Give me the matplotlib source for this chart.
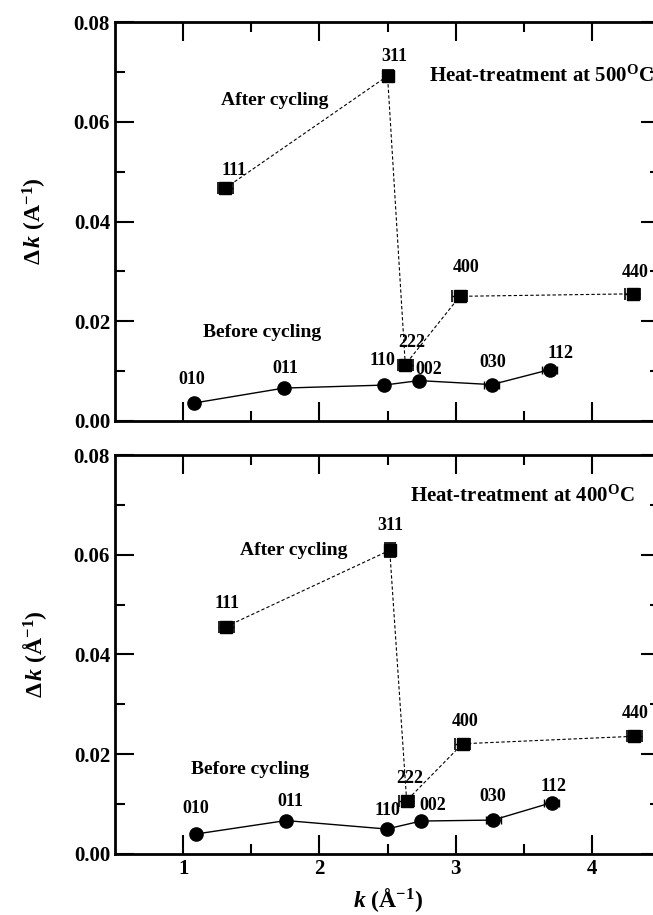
import numpy as np
import matplotlib
matplotlib.use("Agg")
import matplotlib.pyplot as plt

plt.rcParams['font.family'] = ['Liberation Serif', 'DejaVu Serif']
plt.rcParams['font.weight'] = 'bold'
plt.rcParams['axes.labelweight'] = 'bold'
plt.rcParams['mathtext.fontset'] = 'custom'
plt.rcParams['mathtext.rm'] = 'Liberation Serif:bold'
plt.rcParams['mathtext.it'] = 'Liberation Serif:bold:italic'
plt.rcParams['mathtext.bf'] = 'Liberation Serif:bold'

# reflections
before_hkl = ['010', '011', '110', '002', '030', '112']
after_hkl = ['111', '311', '222', '400', '440']

# heat-treatment at 500 C (top panel)
k_before_500 = [1.08, 1.74, 2.475, 2.73, 3.265, 3.69]
dk_before_500 = [0.0036, 0.0066, 0.0072, 0.0081, 0.0073, 0.0103]
k_after_500 = [1.31, 2.50, 2.63, 3.03, 4.30]
dk_after_500 = [0.0467, 0.0692, 0.0113, 0.0250, 0.0255]
yerr_after_500 = [0.0, 0.0012, 0.0, 0.0, 0.0]

# heat-treatment at 400 C (bottom panel)
k_before_400 = [1.094, 1.754, 2.494, 2.745, 3.274, 3.705]
dk_before_400 = [0.0040, 0.0067, 0.0050, 0.0066, 0.0068, 0.0103]
k_after_400 = [1.316, 2.516, 2.64, 3.05, 4.31]
dk_after_400 = [0.0456, 0.0609, 0.0107, 0.0221, 0.0236]
yerr_after_400 = [0.0, 0.0014, 0.0, 0.0, 0.0]

xerr_before = [0.0, 0.0, 0.0, 0.0, 0.055, 0.055]
xerr_after = [0.055, 0.0, 0.055, 0.055, 0.055]

# label positions (data coords)
lab_before_500 = [(1.066, 0.0084), (1.748, 0.0106), (2.46, 0.0122), (2.805, 0.0104), (3.274, 0.0118), (3.766, 0.0136)]
lab_after_500 = [(1.374, 0.0502), (2.548, 0.0730), (2.68, 0.0158), (3.076, 0.0308), (4.316, 0.0298)]
lab_before_400 = [(1.094, 0.0091), (1.79, 0.0105), (2.50, 0.0088), (2.835, 0.0098), (3.274, 0.0115), (3.715, 0.0135)]
lab_after_400 = [(1.323, 0.0503), (2.52, 0.0658), (2.665, 0.0151), (3.066, 0.0265), (4.32, 0.0281)]

fig = plt.figure(figsize=(6.53, 9.15), dpi=100)
ax1 = fig.add_axes([0.176, 0.5399, 0.835, 0.436])
ax2 = fig.add_axes([0.176, 0.0667, 0.835, 0.436])


def panel(ax, kb, db, ka, da, yerr_a, lab_b, lab_a, title, title_pos,
          after_pos, before_pos, ylab):
    ax.errorbar(kb, db, xerr=xerr_before, fmt='o-', color='black', ms=9.5,
                lw=1.0, elinewidth=1.0, capsize=3, capthick=1.0)
    ax.errorbar(ka, da, xerr=xerr_after, yerr=yerr_a, fmt='s', ls=(0, (3, 2)),
                color='black', ms=9, lw=0.8, elinewidth=1.0, capsize=4,
                capthick=1.2)
    for name, (x, y) in zip(before_hkl, lab_b):
        ax.text(x, y, name, ha='center', va='center', fontsize=13)
    for name, (x, y) in zip(after_hkl, lab_a):
        ax.text(x, y, name, ha='center', va='center', fontsize=13)
    ax.text(title_pos[0], title_pos[1], title, ha='left', va='center', fontsize=15)
    ax.text(after_pos[0], after_pos[1], 'After cycling', ha='center', va='center', fontsize=14)
    ax.text(before_pos[0], before_pos[1], 'Before cycling', ha='center', va='center', fontsize=14)

    ax.set_xlim(0.5, 4.5)
    ax.set_ylim(0.0, 0.08)
    ax.set_xticks([1, 2, 3, 4])
    ax.set_xticks([1.5, 2.5, 3.5], minor=True)
    ax.set_yticks([0.0, 0.02, 0.04, 0.06, 0.08])
    ax.set_yticks([0.01, 0.03, 0.05, 0.07], minor=True)
    ax.yaxis.set_major_formatter(matplotlib.ticker.FormatStrFormatter('%.2f'))
    ax.tick_params(which='both', direction='in', top=True, right=True, width=1.5,
                   labelsize=15)
    ax.tick_params(which='major', length=14)
    ax.tick_params(which='minor', length=7)
    for sp in ax.spines.values():
        sp.set_linewidth(2)
    ax.set_ylabel(ylab, fontsize=17, labelpad=18)


panel(ax1, k_before_500, dk_before_500, k_after_500, dk_after_500, yerr_after_500,
      lab_before_500, lab_after_500, 'Heat-treatment at 500$^{\\rm O}$C',
      (2.805, 0.0692), (1.675, 0.0642), (1.583, 0.0178),
      '$\\Delta\\,\\mathit{k}$ (A$^{-1}$)')
panel(ax2, k_before_400, dk_before_400, k_after_400, dk_after_400, yerr_after_400,
      lab_before_400, lab_after_400, 'Heat-treatment at 400$^{\\rm O}$C',
      (2.665, 0.0718), (1.81, 0.0608), (1.49, 0.0169),
      '$\\Delta\\,\\mathit{k}$ (Å$^{-1}$)')

ax1.tick_params(labelbottom=False)
ax2.set_xlabel('$\\mathit{k}$ (Å$^{-1}$)', fontsize=17, labelpad=5)

fig.savefig('out.png', dpi=100)
